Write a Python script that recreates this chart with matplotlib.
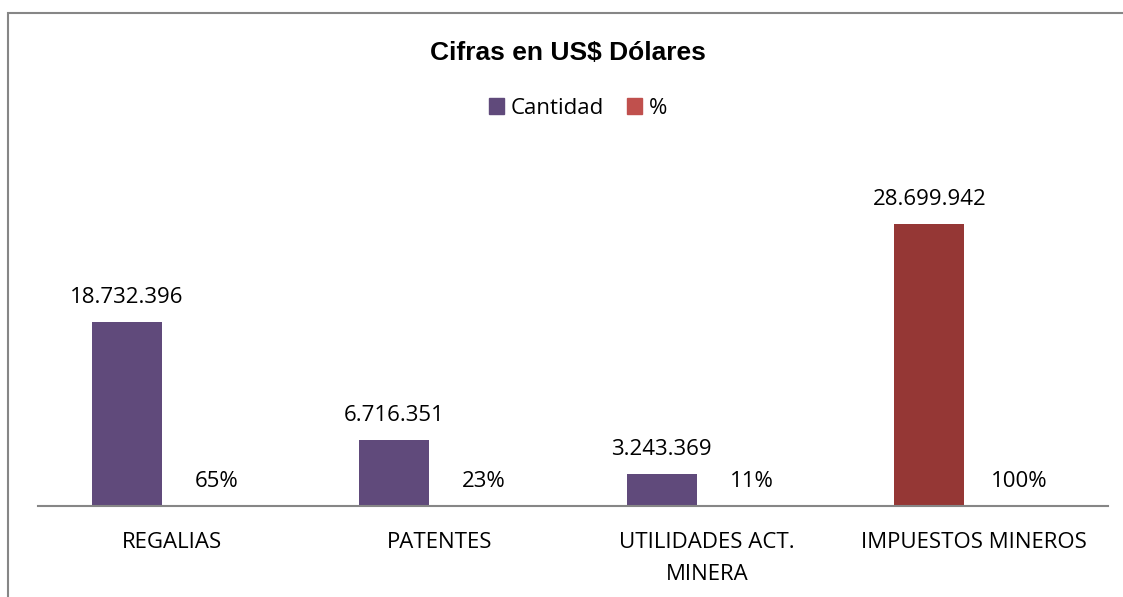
import numpy as np
import matplotlib
matplotlib.use('Agg')
import matplotlib.pyplot as plt
from matplotlib.patches import Rectangle, Patch

# data
categorias = ['REGALIAS', 'PATENTES', 'UTILIDADES ACT.\nMINERA', 'IMPUESTOS MINEROS']
cantidad = [18732396, 6716351, 3243369, 28699942]
porcentaje = [0.65, 0.23, 0.11, 1.00]

morado = '#604A7B'
rojo = '#953735'
rojo_leyenda = '#C0504D'
gris = '#868686'

plt.rcParams['font.family'] = ['Open Sans', 'DejaVu Sans']

W, H = 1123, 597
fig = plt.figure(figsize=(W / 100, H / 100), dpi=100)
ax = fig.add_axes([38 / W, (H - 506) / H, (1108 - 38) / W, (506 - 162) / H])

x = np.arange(len(categorias))
ancho = 0.262
desp = 0.168
colores = [morado] * 3 + [rojo]

b1 = ax.bar(x - desp, cantidad, ancho, color=colores)
b2 = ax.bar(x + desp, porcentaje, ancho, color=rojo_leyenda)

for rect, v in zip(b1, cantidad):
    ax.annotate(f'{v:,}'.replace(',', '.'), (rect.get_x() + rect.get_width() / 2, rect.get_height()),
                xytext=(0, 13.5), textcoords='offset points', ha='center', va='baseline', fontsize=16)
for rect, p in zip(b2, porcentaje):
    ax.annotate(f'{p:.0%}', (rect.get_x() + rect.get_width() / 2, rect.get_height()),
                xytext=(0, 13.5), textcoords='offset points', ha='center', va='baseline', fontsize=16)

ax.set_xlim(-0.5, 3.5)
ax.set_ylim(0, 35000000)
ax.set_xticks(x)
ax.set_xticklabels(categorias, fontsize=16, linespacing=1.65)
ax.tick_params(axis='x', length=0, pad=19)
ax.set_yticks([])
for s in ['top', 'right', 'left']:
    ax.spines[s].set_visible(False)
ax.spines['bottom'].set_color(gris)
ax.spines['bottom'].set_linewidth(1.5)

fig.text(0.5055, 1 - 53 / H, 'Cifras en US$ Dólares', ha='center', va='center',
         fontsize=19, fontweight='bold', family='Liberation Sans')

handles = [Patch(color=morado), Patch(color=rojo_leyenda)]
fig.legend(handles, ['Cantidad', '%'], loc='center', bbox_to_anchor=(578 / W, 1 - 108 / H),
           ncol=2, frameon=False, fontsize=16, handlelength=0.7, handleheight=0.7,
           handletextpad=0.3, columnspacing=1.0)

fig.patches.append(Rectangle((8 / W, -0.1), 1.2, 1.1 - 13 / H, transform=fig.transFigure,
                             fill=False, ec=gris, lw=1.5))

fig.savefig('out.png', dpi=100)
